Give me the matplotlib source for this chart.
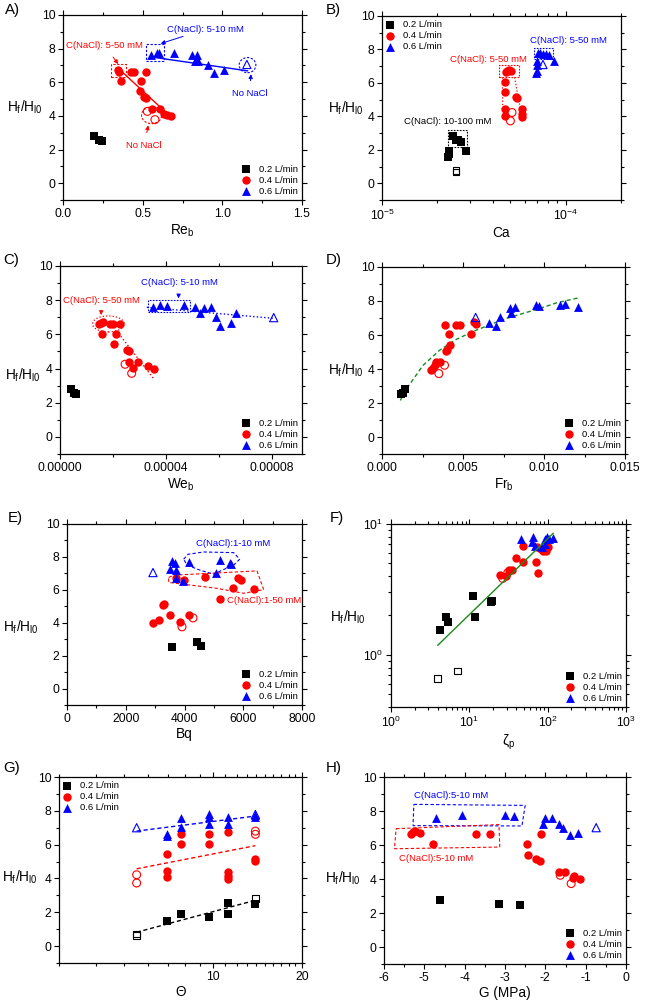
import matplotlib
matplotlib.use("Agg")
import matplotlib.pyplot as plt
from matplotlib.patches import Rectangle, Ellipse, Polygon
from matplotlib.ticker import AutoMinorLocator, FixedLocator, FixedFormatter, NullFormatter, LogLocator

plt.rcParams["font.family"] = ["Liberation Sans", "DejaVu Sans"]
plt.rcParams["mathtext.fontset"] = "custom"
plt.rcParams["mathtext.rm"] = "Liberation Sans"
plt.rcParams["mathtext.it"] = "Liberation Sans:italic"
plt.rcParams["mathtext.default"] = "regular"
plt.rcParams["axes.unicode_minus"] = False

BLK, RED, BLU, GRN = "black", "#ff0000", "#0000ff", "#1a8a1a"

# ---- A) Re_b ----
A_x02 = [0.195, 0.224, 0.243]
A_y02 = [2.8, 2.58, 2.5]
A_x04 = [0.346, 0.352, 0.367, 0.426, 0.447, 0.524, 0.489, 0.485, 0.51, 0.52, 0.558, 0.608, 0.636, 0.65, 0.678]
A_y04 = [6.72, 6.62, 6.06, 6.62, 6.62, 6.62, 6.06, 5.47, 5.13, 5.07, 4.43, 4.43, 4.13, 4.08, 3.98]
A_x04o = [0.529, 0.577]
A_y04o = [4.27, 3.78]
A_x06 = [0.55, 0.592, 0.604, 0.694, 0.808, 0.843, 0.829, 0.85, 0.913, 0.948, 1.013]
A_y06 = [7.65, 7.77, 7.77, 7.73, 7.65, 7.61, 7.26, 7.26, 7.02, 6.56, 6.72]
A_x06o = [1.154]
A_y06o = [7.06]
A_fit04 = ([0.35, 0.67], [6.8, 4.0])
A_fit06 = ([0.55, 1.158], [7.51, 6.68])

# ---- B) Ca ----
B_x02 = [2.30e-5, 2.32e-5, 2.33e-5, 2.45e-5, 2.53e-5, 2.6e-5, 2.68e-5, 2.88e-5]
B_y02 = [1.58, 1.75, 1.92, 2.81, 2.61, 2.57, 2.49, 1.94]
B_x02o = [2.53e-5, 2.53e-5]
B_y02o = [0.68, 0.76]
B_x04 = [4.65e-5, 4.65e-5, 4.65e-5, 4.65e-5, 4.72e-5, 4.82e-5, 4.92e-5, 5.02e-5, 5.38e-5, 5.42e-5, 5.78e-5, 5.78e-5, 5.78e-5]
B_y04 = [6.07, 5.47, 4.47, 4.03, 6.65, 6.7, 6.75, 6.72, 5.17, 5.07, 4.47, 4.17, 3.97]
B_x04o = [5.1e-5, 5.0e-5]
B_y04o = [4.23, 3.73]
B_x06 = [6.92e-5, 6.98e-5, 6.98e-5, 6.98e-5, 7.05e-5, 7.26e-5, 7.51e-5, 7.83e-5, 8.13e-5, 8.6e-5]
B_y06 = [6.57, 6.7, 7.07, 7.3, 7.8, 7.78, 7.7, 7.7, 7.65, 7.3]
B_x06o = [7.52e-5]
B_y06o = [7.1]

# ---- C) We_b ----
C_x02 = [4.2e-6, 5.3e-6, 6.1e-6]
C_y02 = [2.79, 2.59, 2.5]
C_x04 = [1.49e-5, 1.55e-5, 1.62e-5, 1.58e-5, 1.89e-5, 1.99e-5, 2.27e-5, 2.1e-5, 2.06e-5, 2.54e-5, 2.59e-5, 2.59e-5, 2.94e-5, 2.75e-5, 3.34e-5, 3.56e-5]
C_y04 = [6.6, 6.68, 6.74, 6.02, 6.6, 6.6, 6.6, 6.02, 5.42, 5.09, 5.03, 4.41, 4.41, 4.05, 4.15, 4.0]
C_x04o = [2.46e-5, 2.71e-5]
C_y04o = [4.25, 3.72]
C_x06 = [3.53e-5, 3.79e-5, 4.04e-5, 4.67e-5, 5.11e-5, 5.45e-5, 5.3e-5, 5.7e-5, 5.9e-5, 6.06e-5, 6.47e-5, 6.66e-5]
C_y06 = [7.58, 7.72, 7.66, 7.72, 7.62, 7.52, 7.23, 7.58, 7.0, 6.51, 6.69, 7.23]
C_x06o = [8.08e-5]
C_y06o = [6.98]
C_fit06 = ([3.28e-5, 8.08e-5], [7.58, 6.94])
C_fit04 = ([2.21e-5, 3.56e-5], [6.06, 3.37])

# ---- D) Fr_b ----
D_x02 = [0.0012, 0.00128, 0.00144]
D_y02 = [2.52, 2.56, 2.81]
D_x04 = [0.00303, 0.00314, 0.00328, 0.00334, 0.00359, 0.00392, 0.004, 0.00417, 0.00413, 0.00388, 0.00458, 0.00479, 0.00551, 0.00565, 0.00578]
D_y04 = [3.96, 4.06, 4.22, 4.41, 4.41, 5.06, 5.14, 5.41, 6.04, 6.6, 6.6, 6.6, 6.04, 6.76, 6.62]
D_x04o = [0.00351, 0.00386]
D_y04o = [3.73, 4.22]
D_x06 = [0.00658, 0.00702, 0.0073, 0.00788, 0.00799, 0.00819, 0.00953, 0.00968, 0.0110, 0.01129, 0.01207]
D_y06 = [6.72, 6.52, 7.03, 7.56, 7.27, 7.62, 7.75, 7.7, 7.75, 7.81, 7.62]
D_x06o = [0.00578]
D_y06o = [7.03]
D_fit_x = [0.00113, 0.00149, 0.00252, 0.00355, 0.00458, 0.00561, 0.00664, 0.00768, 0.00871, 0.00974, 0.01077, 0.01211]
D_fit_y = [2.15, 2.8, 4.2, 5.1, 5.74, 6.2, 6.6, 6.97, 7.27, 7.56, 7.89, 8.18]

# ---- E) Bq ----
E_x02 = [3574, 4426, 4573]
E_y02 = [2.5, 2.8, 2.59]
E_x04 = [2916, 3121, 3257, 3314, 3518, 3858, 4142, 3722, 3972, 4709, 5197, 5640, 5810, 5923, 6377]
E_y04 = [4.01, 4.17, 5.05, 5.11, 4.45, 4.07, 4.45, 6.71, 6.61, 6.75, 5.45, 6.09, 6.71, 6.59, 6.05]
E_x04o = [3915, 4290]
E_y04o = [3.75, 4.29]
E_x06 = [3495, 3574, 3688, 3710, 3710, 3949, 4165, 5084, 5197, 5537, 5583]
E_y06 = [7.25, 7.76, 7.66, 7.21, 6.71, 6.55, 7.72, 7.01, 7.82, 7.62, 7.56]
E_x06o = [2927]
E_y06o = [7.05]
E_blob06 = [(3972, 7.86), (4119, 8.16), (4653, 8.30), (5674, 8.26), (5878, 7.86), (5674, 7.5),
            (5277, 7.19), (4993, 6.95), (4539, 7.19), (4085, 7.5)]
E_blob04 = [(3461, 6.75), (3631, 6.89), (6468, 7.15), (6695, 6.01), (6014, 5.79), (5107, 6.09), (3461, 6.45)]

# ---- F) zeta_p ----
F_x02 = [4.28, 5.11, 5.32, 11.0, 11.9, 19.1, 19.3]
F_y02 = [1.55, 1.96, 1.77, 2.83, 1.96, 2.52, 2.59]
F_x02o = [3.96, 7.07]
F_y02o = [0.659, 0.755]
F_x04 = [48, 39.1, 48, 71, 75.9, 24.6, 29.1, 32.1, 35.4, 87.9, 95.3, 102, 81.5, 73.1]
F_y04 = [6.82, 5.47, 5.09, 5.15, 4.22, 4.1, 4.02, 4.47, 4.47, 6.18, 6.18, 6.68, 6.44, 6.64]
F_x04o = [26.7, 31.0]
F_y04o = [3.84, 4.25]
F_x06 = [45.7, 65.6, 62.5, 68.9, 84, 92.5, 97.2, 105, 116, 92.5]
F_y06 = [7.68, 7.91, 7.33, 6.82, 6.64, 7.68, 7.91, 7.68, 7.77, 7.0]
F_fit = ([3.96, 117.5], [1.186, 8.48])

# ---- G) Theta ----
G_x02 = [6.95, 7.78, 9.69, 11.2, 11.2, 13.9]
G_y02 = [1.51, 1.92, 1.73, 2.55, 1.92, 2.49]
G_x02o = [5.5, 5.5, 13.9]
G_y02o = [0.62, 0.72, 2.8]
G_x04 = [6.95, 6.95, 6.95, 7.78, 7.78, 9.69, 9.69, 11.2, 11.2, 11.2, 11.2, 13.9, 13.9]
G_y04 = [5.43, 4.47, 4.06, 6.63, 6.04, 6.63, 6.04, 6.73, 4.41, 4.16, 3.98, 5.14, 5.04]
G_x04o = [5.5, 5.5, 13.9, 13.9]
G_y04o = [4.22, 3.73, 6.8, 6.61]
G_x06 = [6.95, 6.95, 7.78, 7.78, 9.69, 9.69, 9.69, 11.2, 11.2, 13.9, 13.9]
G_y06 = [6.63, 6.51, 7.59, 7.02, 7.8, 7.65, 7.22, 7.61, 7.22, 7.78, 7.65]
G_x06o = [5.5, 13.9]
G_y06o = [7.0, 7.78]
G_fit02 = ([5.5, 13.9], [0.82, 2.71])
G_fit04 = ([5.5, 13.9], [4.57, 5.94])
G_fit06 = ([5.5, 13.9], [6.8, 7.69])

# ---- H) G (MPa) ----
H_x02 = [-4.61, -3.14, -2.62]
H_y02 = [2.78, 2.55, 2.49]
H_x04 = [-5.32, -5.27, -5.22, -5.1, -4.79, -3.71, -3.36, -2.45, -2.44, -2.23, -2.14, -2.1, -1.67, -1.51, -1.32, -1.3, -1.13]
H_y04 = [6.63, 6.75, 6.8, 6.73, 6.08, 6.63, 6.63, 6.08, 5.43, 5.16, 5.06, 6.63, 4.43, 4.43, 4.06, 4.16, 3.98]
H_x04o = [-1.63, -1.36]
H_y04o = [4.22, 3.73]
H_x06 = [-4.7, -4.07, -3.01, -2.78, -2.05, -2.0, -1.83, -1.65, -1.55, -1.39, -1.2]
H_y06 = [7.61, 7.78, 7.78, 7.69, 7.25, 7.61, 7.61, 7.25, 7.02, 6.57, 6.71]
H_x06o = [-0.74]
H_y06o = [7.02]
H_box06 = [(-5.26, 8.39), (-2.5, 8.33), (-2.58, 7.12), (-5.28, 7.14)]
H_box04 = [(-5.7, 6.96), (-3.15, 7.2), (-3.13, 5.88), (-5.74, 5.78)]

LABELS = ["0.2 L/min", "0.4 L/min", "0.6 L/min"]
YLAB = r"H$_\mathrm{f}$/H$_\mathrm{l0}$"
W, H = 646, 1000
S = 27     # base marker area
ANN = 6.8  # annotation font size


def make_ax(fig, l, r, t, b):
    return fig.add_axes([l / W, 1 - b / H, (r - l) / W, (b - t) / H])


def style(ax, xlab, ylab_pos, minor=True):
    for s in ax.spines.values():
        s.set_linewidth(0.9)
    ax.tick_params(which="both", direction="out", labelsize=8.7, width=0.8, pad=2,
                   top=True, right=True)
    ax.tick_params(which="major", length=3.5)
    ax.tick_params(which="minor", length=2)
    if minor:
        if ax.get_xscale() == "linear":
            ax.xaxis.set_minor_locator(AutoMinorLocator(2))
        if ax.get_yscale() == "linear":
            ax.yaxis.set_minor_locator(AutoMinorLocator(2))
    ax.set_xlabel(xlab, fontsize=9.8, labelpad=2)
    ax.text(ylab_pos[0], ylab_pos[1], YLAB, transform=ax.transAxes, fontsize=9.8,
            ha="center", va="center")


def groups(ax, x02, y02, x04, y04, x06, y06):
    ax.scatter(x02, y02, marker="s", s=S, c=BLK, linewidths=0, label=LABELS[0], zorder=3)
    ax.scatter(x04, y04, marker="o", s=S * 1.35, c=RED, linewidths=0, label=LABELS[1], zorder=3)
    ax.scatter(x06, y06, marker="^", s=S * 1.5, c=BLU, linewidths=0, label=LABELS[2], zorder=3)


def opens(ax, x, y, marker, color):
    area = {"s": S * 0.85, "o": S * 1.2, "^": S * 1.3}[marker]
    ax.scatter(x, y, marker=marker, s=area, facecolors="none", edgecolors=color, linewidths=0.8, zorder=3)


def legend(ax, loc):
    ax.legend(loc=loc, frameon=False, fontsize=6.8, handlelength=0.8, handletextpad=1.0,
              labelspacing=0.2, borderaxespad=0.25, borderpad=0.2, scatterpoints=1)


def y_setup(ax):
    ax.set_ylim(-1, 10)
    ax.set_yticks([0, 2, 4, 6, 8, 10])


fig = plt.figure(figsize=(W / 100, H / 100), dpi=100)
ap = dict(arrowstyle="-|>", lw=0.7, mutation_scale=6)
dash = (0, (1.5, 1.2))

# A
ax = make_ax(fig, 63, 302, 15, 200)
groups(ax, A_x02, A_y02, A_x04, A_y04, A_x06, A_y06)
opens(ax, A_x04o, A_y04o, "o", RED)
opens(ax, A_x06o, A_y06o, "^", BLU)
ax.plot(*A_fit04, color=RED, lw=1)
ax.plot(*A_fit06, color=BLU, lw=1)
ax.add_patch(Rectangle((0.304, 6.32), 0.09, 0.74, fill=False, ec=RED, ls=(0, (2, 1.5)), lw=0.8))
ax.add_patch(Ellipse((0.556, 4.04), 0.126, 1.0, fill=False, ec=RED, ls=(0, (2, 1.5)), lw=0.8))
ax.add_patch(Rectangle((0.518, 7.26), 0.116, 0.99, fill=False, ec=BLU, ls=(0, (2, 1.5)), lw=0.8))
ax.add_patch(Ellipse((1.158, 7.02), 0.105, 0.9, fill=False, ec=BLU, ls=(0, (2, 1.5)), lw=0.8))
ax.annotate("C(NaCl): 5-50 mM", xy=(0.346, 7.08), xytext=(0.262, 8.2), color=RED, fontsize=ANN,
            ha="center", va="center", arrowprops=dict(ap, color=RED, shrinkA=4, shrinkB=0))
ax.annotate("No NaCl", xy=(0.535, 3.44), xytext=(0.51, 2.25), color=RED, fontsize=ANN,
            ha="center", va="center", arrowprops=dict(ap, color=RED, shrinkA=4, shrinkB=0))
ax.annotate("C(NaCl): 5-10 mM", xy=(0.613, 8.3), xytext=(0.896, 9.16), color=BLU, fontsize=ANN,
            ha="center", va="center", arrowprops=dict(ap, color=BLU, shrinkA=0, shrinkB=0))
ax.annotate("No NaCl", xy=(1.18, 6.48), xytext=(1.17, 5.33), color=BLU, fontsize=ANN,
            ha="center", va="center", arrowprops=dict(ap, color=BLU, shrinkA=4, shrinkB=0))
ax.set_xlim(0, 1.5)
ax.set_xticks([0, 0.5, 1.0, 1.5])
ax.set_xticklabels(["0.0", "0.5", "1.0", "1.5"])
y_setup(ax)
style(ax, r"Re$_\mathrm{b}$", (-0.159, 0.5))
legend(ax, "lower right")

# B
ax = make_ax(fig, 382, 621, 16, 200)
ax.set_xscale("log")
groups(ax, B_x02, B_y02, B_x04, B_y04, B_x06, B_y06)
opens(ax, B_x02o, B_y02o, "s", BLK)
opens(ax, B_x04o, B_y04o, "o", RED)
opens(ax, B_x06o, B_y06o, "^", BLU)
ax.add_patch(Rectangle((2.3e-5, 2.18), 0.6e-5, 1.03, fill=False, ec=BLK, ls=dash, lw=0.8))
ax.add_patch(Rectangle((4.33e-5, 6.33), 1.21e-5, 0.74, fill=False, ec=RED, ls=dash, lw=0.8))
ax.add_patch(Rectangle((6.7e-5, 7.4), 1.8e-5, 0.7, fill=False, ec=BLU, ls=dash, lw=0.8))
ax.plot([4.52e-5, 4.55e-5], [6.33, 4.07], color=RED, ls=":", lw=0.9)
ax.plot([5.27e-5, 5.66e-5], [6.33, 4.47], color=RED, ls=":", lw=0.9)
ax.text(2.28e-5, 3.67, "C(NaCl): 10-100 mM", color=BLK, fontsize=ANN, ha="center", va="center")
ax.text(3.82e-5, 7.4, "C(NaCl): 5-50 mM", color=RED, fontsize=ANN, ha="center", va="center")
ax.text(1.04e-4, 8.56, "C(NaCl): 5-50 mM", color=BLU, fontsize=ANN, ha="center", va="center")
ax.set_xlim(1e-5, 2e-4)
y_setup(ax)
style(ax, "Ca", (-0.15, 0.5))
ax.xaxis.set_minor_locator(LogLocator(base=10, subs=range(2, 10)))
ax.xaxis.set_minor_formatter(NullFormatter())
legend(ax, "upper left")

# C
ax = make_ax(fig, 60, 302, 266, 454)
groups(ax, C_x02, C_y02, C_x04, C_y04, C_x06, C_y06)
opens(ax, C_x04o, C_y04o, "o", RED)
opens(ax, C_x06o, C_y06o, "^", BLU)
ax.plot(*C_fit06, color=BLU, ls=":", lw=1)
ax.plot(*C_fit04, color=RED, ls=":", lw=1)
ax.add_patch(Ellipse((1.83e-5, 6.61), 1.2e-5, 0.94, fill=False, ec=RED, ls=":", lw=0.9))
ax.add_patch(Rectangle((3.31e-5, 7.29), 1.59e-5, 0.72, fill=False, ec=BLU, ls=dash, lw=0.8))
ax.annotate("C(NaCl): 5-50 mM", xy=(1.55e-5, 7.13), xytext=(1.58e-5, 8.01), color=RED, fontsize=ANN,
            ha="center", va="center", arrowprops=dict(ap, color=RED, shrinkA=4, shrinkB=0))
ax.annotate("C(NaCl): 5-10 mM", xy=(4.48e-5, 8.1), xytext=(4.5e-5, 9.04), color=BLU, fontsize=ANN,
            ha="center", va="center", arrowprops=dict(ap, color=BLU, shrinkA=4, shrinkB=0))
ax.set_xlim(0, 9.15e-5)
ax.set_xticks([0, 4e-5, 8e-5])
ax.set_xticklabels(["0.00000", "0.00004", "0.00008"])
y_setup(ax)
style(ax, r"We$_\mathrm{b}$", (-0.153, 0.42))
legend(ax, "lower right")

# D
ax = make_ax(fig, 382, 625, 267, 454)
groups(ax, D_x02, D_y02, D_x04, D_y04, D_x06, D_y06)
opens(ax, D_x04o, D_y04o, "o", RED)
opens(ax, D_x06o, D_y06o, "^", BLU)
ax.plot(D_fit_x, D_fit_y, color=GRN, ls=(0, (3, 2)), lw=1, zorder=2)
ax.set_xlim(0, 0.015)
ax.set_xticks([0, 0.005, 0.010, 0.015])
ax.set_xticklabels(["0.000", "0.005", "0.010", "0.015"])
y_setup(ax)
style(ax, r"Fr$_\mathrm{b}$", (-0.148, 0.45))
legend(ax, "lower right")

# E
ax = make_ax(fig, 67, 302, 524, 705)
groups(ax, E_x02, E_y02, E_x04, E_y04, E_x06, E_y06)
opens(ax, E_x04o, E_y04o, "o", RED)
opens(ax, E_x06o, E_y06o, "^", BLU)
ax.add_patch(Polygon(E_blob06, closed=True, fill=False, ec=BLU, ls=(0, (3, 2)), lw=0.8))
ax.add_patch(Polygon(E_blob04, closed=True, fill=False, ec=RED, ls=(0, (3, 2)), lw=0.8))
ax.text(5640, 8.8, "C(NaCl):1-10 mM", color=BLU, fontsize=ANN, ha="center", va="center")
ax.text(6718, 5.35, "C(NaCl):1-50 mM", color=RED, fontsize=ANN, ha="center", va="center")
ax.set_xlim(0, 8000)
ax.set_xticks([0, 2000, 4000, 6000, 8000])
y_setup(ax)
style(ax, "Bq", (-0.196, 0.43))
legend(ax, "lower right")

# F
ax = make_ax(fig, 391, 626, 524, 707)
ax.set_xscale("log")
ax.set_yscale("log")
groups(ax, F_x02, F_y02, F_x04, F_y04, F_x06, F_y06)
opens(ax, F_x02o, F_y02o, "s", BLK)
opens(ax, F_x04o, F_y04o, "o", RED)
ax.plot(*F_fit, color=GRN, lw=1, zorder=4)
ax.set_xlim(1, 1000)
ax.set_ylim(0.4, 10)
style(ax, r"ζ$_\mathrm{p}$", (-0.183, 0.49))
ax.yaxis.set_major_locator(FixedLocator([1, 10]))
ax.yaxis.set_minor_locator(LogLocator(base=10, subs=range(2, 10)))
ax.yaxis.set_minor_formatter(NullFormatter())
legend(ax, "lower right")

# G
ax = make_ax(fig, 59, 302, 777, 963)
ax.set_xscale("log")
groups(ax, G_x02, G_y02, G_x04, G_y04, G_x06, G_y06)
opens(ax, G_x02o, G_y02o, "s", BLK)
opens(ax, G_x04o, G_y04o, "o", RED)
opens(ax, G_x06o, G_y06o, "^", BLU)
ax.plot(*G_fit02, color=BLK, ls=(0, (3, 2)), lw=1)
ax.plot(*G_fit04, color=RED, ls=(0, (3, 2)), lw=1)
ax.plot(*G_fit06, color=BLU, ls=(0, (3, 2)), lw=1)
ax.set_xlim(3, 20)
y_setup(ax)
style(ax, "Θ", (-0.16, 0.46))
ax.xaxis.set_major_locator(FixedLocator([10, 20]))
ax.xaxis.set_major_formatter(FixedFormatter(["10", "20"]))
ax.xaxis.set_minor_locator(FixedLocator([3, 4, 5, 6, 7, 8, 9, 11, 12, 13, 14, 15, 16, 17, 18, 19]))
ax.xaxis.set_minor_formatter(NullFormatter())
legend(ax, "upper left")

# H
ax = make_ax(fig, 384, 626, 777, 964)
groups(ax, H_x02, H_y02, H_x04, H_y04, H_x06, H_y06)
opens(ax, H_x04o, H_y04o, "o", RED)
opens(ax, H_x06o, H_y06o, "^", BLU)
ax.add_patch(Polygon(H_box06, closed=True, fill=False, ec=BLU, ls=(0, (3, 2)), lw=0.8))
ax.add_patch(Polygon(H_box04, closed=True, fill=False, ec=RED, ls=(0, (3, 2)), lw=0.8))
ax.text(-4.33, 8.92, "C(NaCl):5-10 mM", color=BLU, fontsize=ANN, ha="center", va="center")
ax.text(-4.7, 5.2, "C(NaCl):5-10 mM", color=RED, fontsize=ANN, ha="center", va="center")
ax.set_xlim(-6, 0)
ax.set_xticks([-6, -5, -4, -3, -2, -1, 0])
y_setup(ax)
style(ax, "G (MPa)", (-0.17, 0.46))
legend(ax, "lower right")

for lab, x, y in [("A)", 5, 3), ("B)", 326, 3), ("C)", 3, 253), ("D)", 326, 253),
                  ("E)", 8, 511), ("F)", 330, 511), ("G)", 3, 761), ("H)", 326, 761)]:
    fig.text(x / W, 1 - y / H, lab, fontsize=10.8, ha="left", va="top")

fig.savefig("out.png", dpi=100)
